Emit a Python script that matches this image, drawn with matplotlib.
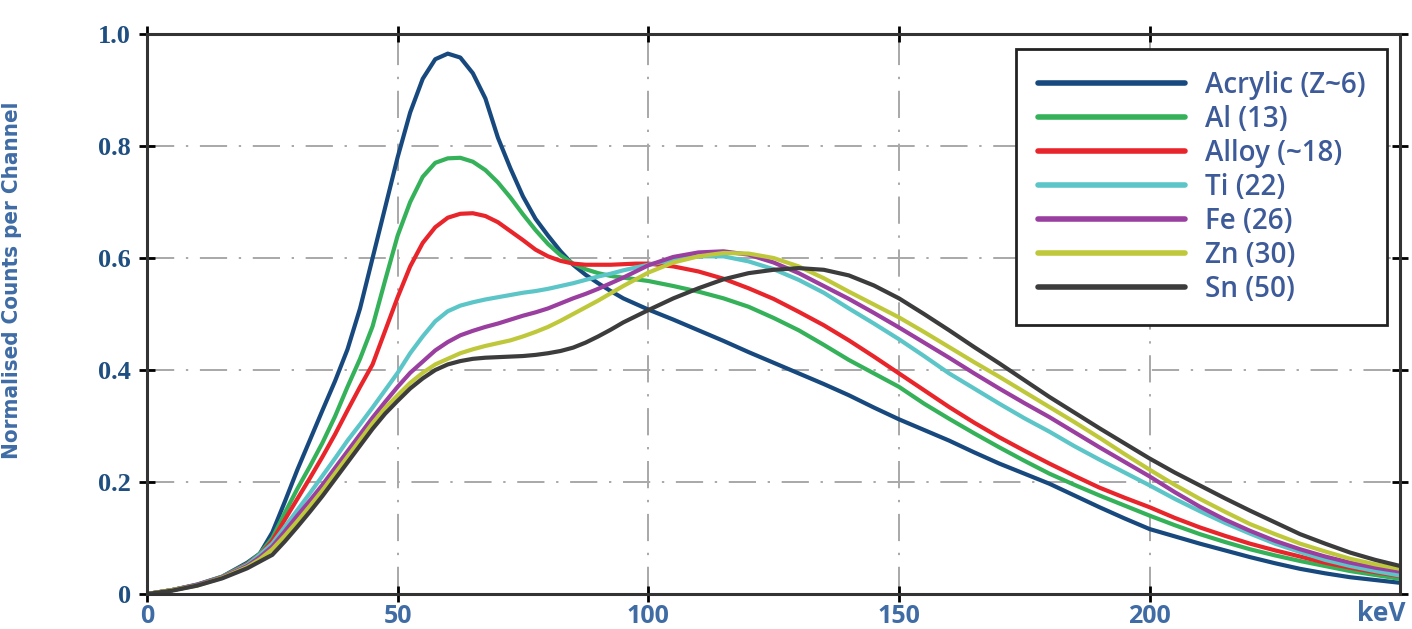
import numpy as np
import matplotlib
matplotlib.use("Agg")
from matplotlib import pyplot as plt
from matplotlib.transforms import ScaledTranslation

# energy channels (keV), finer steps where the spectra bend most
energy = np.concatenate([np.arange(0, 20, 5), np.arange(20, 100, 2.5), np.arange(100, 251, 5)])

acrylic = [0.0, 0.007, 0.017, 0.031,
           0.056, 0.072, 0.11, 0.165, 0.222, 0.275, 0.328, 0.38, 0.437, 0.51,
           0.60, 0.69, 0.78, 0.86, 0.92, 0.955, 0.965, 0.958, 0.93, 0.885,
           0.815, 0.76, 0.71, 0.67, 0.64, 0.612, 0.588, 0.57, 0.555, 0.541,
           0.528, 0.518,
           0.508, 0.49, 0.471, 0.452, 0.432, 0.413, 0.394, 0.375, 0.355, 0.333, 0.312,
           0.293, 0.274, 0.253, 0.233, 0.215, 0.197, 0.176, 0.155, 0.135, 0.116,
           0.103, 0.09, 0.078, 0.066, 0.055, 0.045, 0.037, 0.03, 0.025, 0.02]
al = [0.0, 0.007, 0.016, 0.031,
      0.054, 0.072, 0.10, 0.145, 0.188, 0.228, 0.27, 0.317, 0.37, 0.42,
      0.478, 0.56, 0.64, 0.70, 0.745, 0.77, 0.778, 0.779, 0.772, 0.757,
      0.735, 0.708, 0.678, 0.65, 0.625, 0.605, 0.59, 0.58, 0.573, 0.568,
      0.565, 0.562,
      0.559, 0.55, 0.54, 0.528, 0.513, 0.493, 0.471, 0.445, 0.418, 0.394, 0.37,
      0.34, 0.313, 0.287, 0.262, 0.238, 0.215, 0.195, 0.176, 0.158, 0.14,
      0.123, 0.107, 0.093, 0.08, 0.069, 0.059, 0.05, 0.041, 0.034, 0.027]
alloy = [0.0, 0.007, 0.016, 0.03,
         0.053, 0.07, 0.095, 0.133, 0.17, 0.207, 0.245, 0.285, 0.328, 0.37,
         0.41, 0.47, 0.53, 0.585, 0.627, 0.655, 0.672, 0.679, 0.68, 0.675,
         0.664, 0.648, 0.632, 0.615, 0.603, 0.595, 0.59, 0.588, 0.588, 0.588,
         0.589, 0.59,
         0.59, 0.585, 0.576, 0.563, 0.546, 0.527, 0.504, 0.48, 0.453, 0.424, 0.394,
         0.364, 0.334, 0.306, 0.28, 0.256, 0.233, 0.211, 0.19, 0.172, 0.155,
         0.136, 0.119, 0.104, 0.09, 0.078, 0.067, 0.056, 0.047, 0.039, 0.032]
ti = [0.0, 0.007, 0.016, 0.03,
      0.052, 0.07, 0.09, 0.12, 0.15, 0.18, 0.211, 0.242, 0.274, 0.303,
      0.333, 0.364, 0.395, 0.43, 0.46, 0.487, 0.505, 0.515, 0.521, 0.526,
      0.53, 0.534, 0.538, 0.541, 0.545, 0.55, 0.555, 0.561, 0.567, 0.572,
      0.578, 0.583,
      0.588, 0.597, 0.603, 0.603, 0.594, 0.58, 0.561, 0.538, 0.51, 0.483, 0.455,
      0.425, 0.394, 0.367, 0.34, 0.314, 0.29, 0.264, 0.24, 0.217, 0.194,
      0.17, 0.148, 0.127, 0.108, 0.09, 0.075, 0.061, 0.05, 0.041, 0.033]
fe = [0.0, 0.007, 0.016, 0.03,
      0.05, 0.066, 0.085, 0.112, 0.14, 0.167, 0.195, 0.225, 0.255, 0.285,
      0.315, 0.343, 0.37, 0.395, 0.415, 0.435, 0.45, 0.462, 0.47, 0.477,
      0.483, 0.49, 0.497, 0.503, 0.51, 0.519, 0.528, 0.536, 0.545, 0.555,
      0.565, 0.576,
      0.587, 0.602, 0.61, 0.612, 0.606, 0.592, 0.573, 0.55, 0.527, 0.502, 0.476,
      0.449, 0.422, 0.394, 0.367, 0.341, 0.316, 0.289, 0.262, 0.236, 0.21,
      0.182, 0.156, 0.133, 0.113, 0.095, 0.08, 0.067, 0.056, 0.047, 0.04]
zn = [0.0, 0.007, 0.015, 0.029,
      0.048, 0.062, 0.08, 0.104, 0.13, 0.157, 0.185, 0.215, 0.245, 0.275,
      0.305, 0.332, 0.355, 0.377, 0.395, 0.41, 0.42, 0.43, 0.437, 0.443,
      0.448, 0.453, 0.46, 0.468, 0.477, 0.488, 0.5, 0.512, 0.524, 0.537,
      0.55, 0.562,
      0.574, 0.592, 0.603, 0.609, 0.608, 0.6, 0.585, 0.564, 0.54, 0.517, 0.494,
      0.468, 0.441, 0.414, 0.388, 0.361, 0.334, 0.307, 0.279, 0.25, 0.222,
      0.195, 0.17, 0.147, 0.125, 0.107, 0.09, 0.076, 0.063, 0.053, 0.045]
sn = [0.0, 0.006, 0.015, 0.028,
      0.046, 0.058, 0.07, 0.094, 0.12, 0.147, 0.175, 0.205, 0.235, 0.265,
      0.295, 0.322, 0.345, 0.367, 0.385, 0.4, 0.41, 0.416, 0.42, 0.422,
      0.423, 0.424, 0.425, 0.427, 0.43, 0.434, 0.44, 0.449, 0.46, 0.472,
      0.485, 0.496,
      0.507, 0.528, 0.546, 0.562, 0.573, 0.579, 0.582, 0.579, 0.569, 0.551, 0.528,
      0.5, 0.471, 0.441, 0.412, 0.382, 0.352, 0.324, 0.296, 0.269, 0.242,
      0.217, 0.194, 0.171, 0.149, 0.128, 0.107, 0.09, 0.074, 0.061, 0.05]

labels = ['Acrylic (Z~6)', 'Al (13)', 'Alloy (~18)', 'Ti (22)', 'Fe (26)', 'Zn (30)', 'Sn (50)']
colors = ['#17497f', '#35b15a', '#e8252b', '#5cc5c8', '#9a3f9f', '#bfc83a', '#3c3c3c']
series = [acrylic, al, alloy, ti, fe, zn, sn]

xticks = [0, 50, 100, 150, 200]
yticks = [0, 0.2, 0.4, 0.6, 0.8, 1.0]
ytick_labels = ['0', '0.2', '0.4', '0.6', '0.8', '1.0']

blue_txt = '#3f6ca5'

fig = plt.figure(figsize=(14.12, 6.29), dpi=100)
ax = fig.add_axes([0.1041, 0.0556, 0.8876, 0.8903])

for vals, lab, col in zip(series, labels, colors):
    assert len(vals) == len(energy)
    ax.plot(energy, vals, color=col, lw=3.0, label=lab,
            solid_capstyle='round', solid_joinstyle='round')

ax.set_xlim(0, 250)
ax.set_ylim(0, 1.0)
ax.set_xticks(xticks)
ax.set_yticks(yticks)
ax.set_xticklabels([str(t) for t in xticks], fontfamily='Open Sans', fontweight='bold',
                   fontsize=18, color=blue_txt)
ax.set_yticklabels(ytick_labels, fontfamily='Liberation Serif', fontweight='bold',
                   fontsize=19, color='#1f4f80')
# lift the y labels a little above their ticks
for lbl in ax.get_yticklabels():
    lbl.set_transform(lbl.get_transform() + ScaledTranslation(0, 4 / 72, fig.dpi_scale_trans))

ax.grid(True, color='#a8a8a8', lw=1.4, linestyle=(0, (14, 6, 1.2, 6)))
ax.set_axisbelow(True)

for side in ['left', 'bottom', 'top', 'right']:
    ax.spines[side].set_linewidth(2.2)
    ax.spines[side].set_color('#333333')

ax.tick_params(axis='both', which='major', direction='inout', length=11, width=2,
               color='black', pad=2, top=True, right=True)
ax.tick_params(axis='y', pad=6)

ax.set_ylabel('Normalised Counts per Channel', fontfamily='DejaVu Sans', fontstretch='condensed',
              fontweight='bold', fontsize=16, color=blue_txt)
ax.yaxis.set_label_coords(-0.1, 0.56)

ax.text(1.004, -0.035, 'keV', transform=ax.transAxes, ha='right', va='center',
        fontfamily='Open Sans', fontweight='bold', fontsize=19, color=blue_txt)

leg = ax.legend(loc='upper right', bbox_to_anchor=(0.9896, 0.973), fancybox=False,
                framealpha=1, edgecolor='#222222', handlelength=5.3, handletextpad=0.72,
                labelspacing=0.18, borderpad=0.78, borderaxespad=0,
                prop={'family': 'Open Sans', 'weight': 'semibold', 'size': 20})
leg.get_frame().set_linewidth(2.0)
for txt in leg.get_texts():
    txt.set_color('#3d5a99')
for line in leg.get_lines():
    line.set_linewidth(4)

fig.savefig('out.png', dpi=100)
